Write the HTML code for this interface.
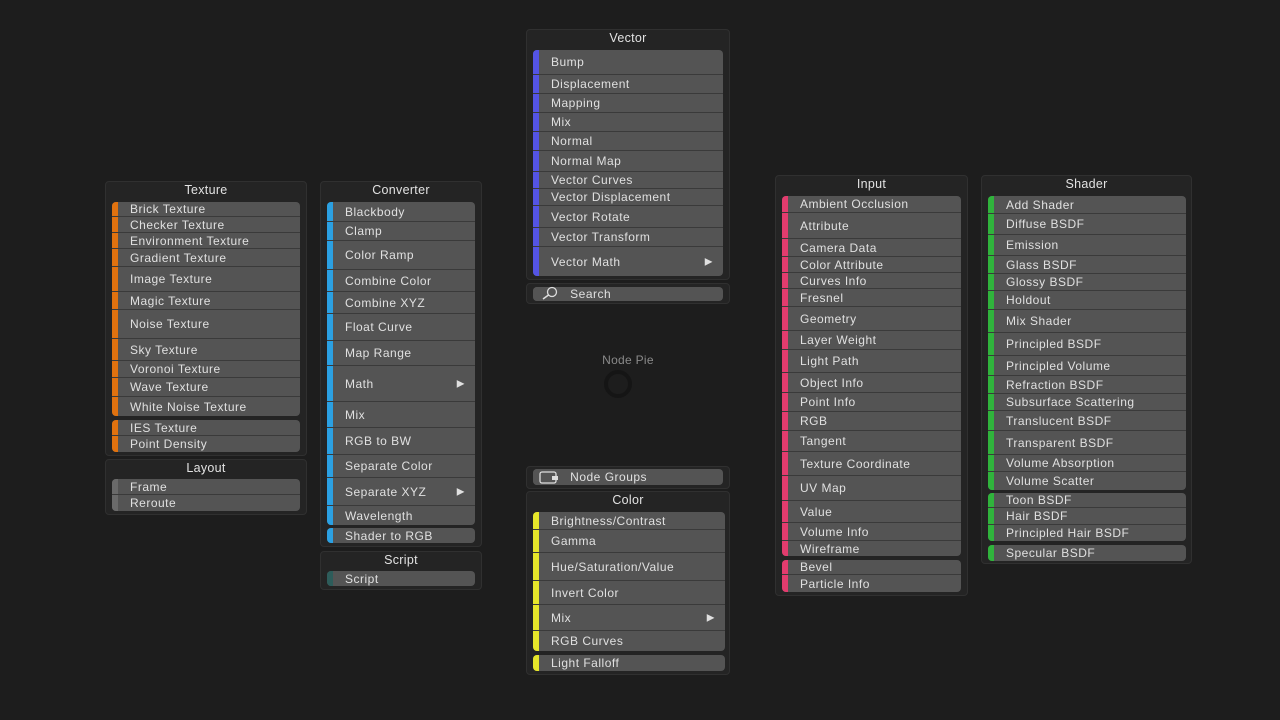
<!DOCTYPE html>
<html><head><meta charset="utf-8"><style>
html,body{margin:0;padding:0;width:1280px;height:720px;background:#1d1d1d;overflow:hidden;font-family:"Liberation Sans",sans-serif;}
.p{position:absolute;background:#242424;border:1px solid #303030;border-radius:4px;box-sizing:border-box;}
.t{position:absolute;color:#e2e2e2;font-size:12.5px;text-align:center;letter-spacing:0.3px;}
.i{position:absolute;background:#545454;box-sizing:border-box;border-bottom:1px solid #3a3a3a;color:#e0e0e0;font-size:12px;letter-spacing:0.5px;white-space:nowrap;}
.i span{position:absolute;left:18px;top:50%;transform:translateY(-50%);}
.i b{position:absolute;left:0;top:0;bottom:0;width:6px;}
.i em{position:absolute;right:10px;top:50%;transform:translateY(-50%);font-style:normal;font-size:10px;}
</style></head><body>
<div class="t" style="left:560px;top:353px;width:136px;color:#8a8a8a;font-size:12px">Node Pie</div>
<div style="position:absolute;left:604px;top:370px;width:20px;height:20px;border:4px solid #151515;border-radius:50%;"></div>
<script>
const W=document.body;
function panel(x1,y1,x2,y2){const d=document.createElement('div');d.className='p';d.style.cssText=`left:${x1}px;top:${y1}px;width:${x2-x1}px;height:${y2-y1}px`;W.appendChild(d);}
function title(s,x1,x2,y){const d=document.createElement('div');d.className='t';d.textContent=s;d.style.cssText=`left:${x1}px;width:${x2-x1}px;top:${y-8}px`;W.appendChild(d);}
function items(x1,x2,bounds,names,col){for(let k=0;k<names.length;k++){const d=document.createElement('div');d.className='i';const y=bounds[k],h=bounds[k+1]-y;let r='';if(k==0)r+='border-top-left-radius:4px;border-top-right-radius:4px;';if(k==names.length-1)r+='border-bottom-left-radius:4px;border-bottom-right-radius:4px;border-bottom:none;';d.style.cssText=`left:${x1}px;width:${x2-x1}px;top:${y}px;height:${h}px;`+r;let n=names[k],arrow=false;if(n.endsWith('>')){n=n.slice(0,-1);arrow=true;}d.innerHTML=`<b style="background:${col};${k==0?'border-top-left-radius:4px;':''}${k==names.length-1?'border-bottom-left-radius:4px;':''}"></b><span>${n}</span>`+(arrow?'<em>▶</em>':'');W.appendChild(d);}}
panel(105,181,307,456);title('Texture',105,307,191);
items(112,300,[202,217,233,249,267,292,310,339,361,378,397,416],['Brick Texture','Checker Texture','Environment Texture','Gradient Texture','Image Texture','Magic Texture','Noise Texture','Sky Texture','Voronoi Texture','Wave Texture','White Noise Texture'],'#e0720f');
items(112,300,[420,436,452],['IES Texture','Point Density'],'#e0720f');
panel(105,459,307,515);title('Layout',105,307,469);
items(112,300,[479,495,511],['Frame','Reroute'],'#6a6a6a');
panel(320,181,482,547);title('Converter',320,482,191);
items(327,475,[202,222,241,270,292,314,341,366,402,428,455,478,506,525],['Blackbody','Clamp','Color Ramp','Combine Color','Combine XYZ','Float Curve','Map Range','Math>','Mix','RGB to BW','Separate Color','Separate XYZ>','Wavelength'],'#2ba0e2');
items(327,475,[528,543],['Shader to RGB'],'#2ba0e2');
panel(320,551,482,590);title('Script',320,482,561);
items(327,475,[571,586],['Script'],'#2d5c5a');
panel(526,29,730,280);title('Vector',526,730,39);
items(533,723,[50,75,94,113,132,151,172,189,206,228,247,276],['Bump','Displacement','Mapping','Mix','Normal','Normal Map','Vector Curves','Vector Displacement','Vector Rotate','Vector Transform','Vector Math>'],'#5454e4');
panel(526,283,730,304);
items(533,723,[287,301],['&nbsp;&nbsp;&nbsp;&nbsp;&nbsp;Search'],'#545454');
panel(526,466,730,489);
items(533,723,[469,485],['&nbsp;&nbsp;&nbsp;&nbsp;&nbsp;Node Groups'],'#545454');
panel(526,491,730,675);title('Color',526,730,501);
items(533,725,[512,530,553,581,605,631,651],['Brightness/Contrast','Gamma','Hue/Saturation/Value','Invert Color','Mix>','RGB Curves'],'#e6e62a');
items(533,725,[655,671],['Light Falloff'],'#e6e62a');
panel(775,175,968,596);title('Input',775,968,185);
items(782,961,[196,213,239,257,273,289,307,331,350,373,393,412,431,452,476,501,523,541,556],['Ambient Occlusion','Attribute','Camera Data','Color Attribute','Curves Info','Fresnel','Geometry','Layer Weight','Light Path','Object Info','Point Info','RGB','Tangent','Texture Coordinate','UV Map','Value','Volume Info','Wireframe'],'#e23c6e');
items(782,961,[560,575,592],['Bevel','Particle Info'],'#e23c6e');
panel(981,175,1192,564);title('Shader',981,1192,185);
items(988,1186,[196,214,235,256,274,291,310,333,356,376,394,411,431,455,472,490],['Add Shader','Diffuse BSDF','Emission','Glass BSDF','Glossy BSDF','Holdout','Mix Shader','Principled BSDF','Principled Volume','Refraction BSDF','Subsurface Scattering','Translucent BSDF','Transparent BSDF','Volume Absorption','Volume Scatter'],'#30b33c');
items(988,1186,[493,508,525,541],['Toon BSDF','Hair BSDF','Principled Hair BSDF'],'#30b33c');
items(988,1186,[545,561],['Specular BSDF'],'#30b33c');
</script>
<svg style="position:absolute;left:537px;top:286px" width="30" height="16"><circle cx="15" cy="6" r="4.5" fill="none" stroke="#ddd" stroke-width="1.3"/><line x1="11.5" y1="9" x2="6" y2="13" stroke="#ddd" stroke-width="1.5"/></svg>
<svg style="position:absolute;left:538px;top:470px" width="24" height="16"><rect x="2" y="2" width="16" height="11" rx="2" fill="none" stroke="#ddd" stroke-width="1.3"/><rect x="14" y="6" width="6" height="4" fill="#ddd"/></svg>
</body></html>
